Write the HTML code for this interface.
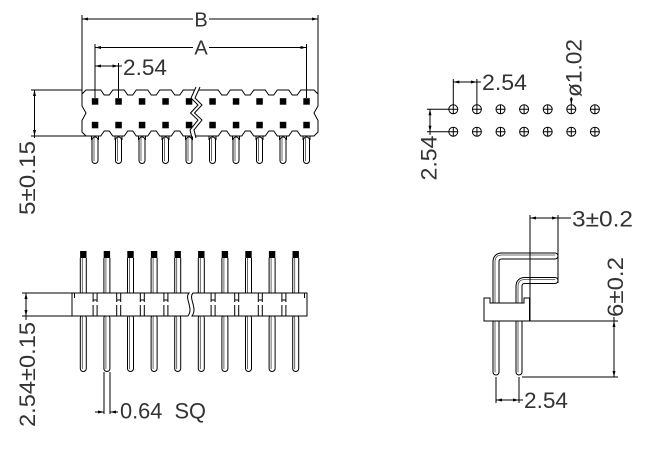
<!DOCTYPE html>
<html><head><meta charset="utf-8"><style>
html,body{margin:0;padding:0;background:#fff;}
svg{display:block;}
text{font-family:"Liberation Sans","DejaVu Sans",sans-serif;fill:#333;}
</style></head><body>
<svg width="652" height="471" viewBox="0 0 652 471" xmlns="http://www.w3.org/2000/svg">
<rect x="0" y="0" width="652" height="471" fill="#fff"/>

<!-- ===================== TOP-LEFT : TOP VIEW ===================== -->
<g fill="none" stroke="#000" stroke-width="1">
  <line x1="82" y1="19" x2="193" y2="19"/><line x1="209" y1="19" x2="318" y2="19"/>
  <line x1="82" y1="15" x2="82" y2="94"/><line x1="318" y1="15" x2="318" y2="106"/>
  <line x1="95" y1="47.5" x2="193" y2="47.5"/><line x1="209" y1="47.5" x2="306.5" y2="47.5"/>
  <line x1="95" y1="44" x2="95" y2="98"/><line x1="306.5" y1="44" x2="306.5" y2="98"/>
  <line x1="95" y1="66" x2="122" y2="66"/>
  <line x1="118.5" y1="63" x2="118.5" y2="98"/>
  <line x1="34.5" y1="90" x2="34.5" y2="138"/>
  <line x1="31" y1="90" x2="82" y2="90"/><line x1="31" y1="136" x2="88" y2="136"/>
</g>
<g fill="#000">
  <polygon points="82,19 88,17.5 88,20.5"/><polygon points="318,19 312,17.5 312,20.5"/>
  <polygon points="95,47.5 101,46 101,49"/><polygon points="306.5,47.5 300.5,46 300.5,49"/>
  <polygon points="95,66 101,64.5 101,67.5"/><polygon points="118.5,66 112.5,64.5 112.5,67.5"/>
  <polygon points="34.5,90 33,96 36,96"/><polygon points="34.5,136 33,130 36,130"/>
</g>

<path fill="#fff" stroke="#000" stroke-width="1" d="M82,94 L86,90 L100.75,90 L104.25,95 L109.25,95 L112.75,90 L124.25,90 L127.75,95 L132.75,95 L136.25,90 L147.75,90 L151.25,95 L156.25,95 L159.75,90 L171.25,90 L174.75,95 L179.75,95 L183.25,90 L218.25,90 L221.75,95 L226.75,95 L230.25,90 L241.75,90 L245.25,95 L250.25,95 L253.75,90 L265.25,90 L268.75,95 L273.75,95 L277.25,90 L288.75,90 L292.25,95 L297.25,95 L300.75,90 L314,90 L318,94 L318,106 L314,113 L318,120.5 L318,132 L314,136 L300.75,136 L297.25,131 L292.25,131 L288.75,136 L277.25,136 L273.75,131 L268.75,131 L265.25,136 L253.75,136 L250.25,131 L245.25,131 L241.75,136 L230.25,136 L226.75,131 L221.75,131 L218.25,136 L183.25,136 L179.75,131 L174.75,131 L171.25,136 L159.75,136 L156.25,131 L151.25,131 L147.75,136 L136.25,136 L132.75,131 L127.75,131 L124.25,136 L112.75,136 L109.25,131 L104.25,131 L100.75,136 L86,136 L82,132 L82,120.5 L86,113 L82,106 Z"/>
<g stroke="#000" stroke-width="1">
  <line x1="95" y1="88" x2="95" y2="98"/><line x1="118.5" y1="88" x2="118.5" y2="98"/><line x1="306.5" y1="88" x2="306.5" y2="98"/>
</g>
<g fill="#000">
  <rect x="91.8" y="98.2" width="6.5" height="6.5"/><rect x="115.3" y="98.2" width="6.5" height="6.5"/>
  <rect x="138.8" y="98.2" width="6.5" height="6.5"/><rect x="162.3" y="98.2" width="6.5" height="6.5"/>
  <rect x="185.8" y="98.2" width="6.5" height="6.5"/><rect x="209.3" y="98.2" width="6.5" height="6.5"/>
  <rect x="232.8" y="98.2" width="6.5" height="6.5"/><rect x="256.3" y="98.2" width="6.5" height="6.5"/>
  <rect x="279.8" y="98.2" width="6.5" height="6.5"/><rect x="303.3" y="98.2" width="6.5" height="6.5"/>
  <rect x="91.8" y="121.8" width="6.5" height="6.5"/><rect x="115.3" y="121.8" width="6.5" height="6.5"/>
  <rect x="138.8" y="121.8" width="6.5" height="6.5"/><rect x="162.3" y="121.8" width="6.5" height="6.5"/>
  <rect x="185.8" y="121.8" width="6.5" height="6.5"/><rect x="209.3" y="121.8" width="6.5" height="6.5"/>
  <rect x="232.8" y="121.8" width="6.5" height="6.5"/><rect x="256.3" y="121.8" width="6.5" height="6.5"/>
  <rect x="279.8" y="121.8" width="6.5" height="6.5"/><rect x="303.3" y="121.8" width="6.5" height="6.5"/>
</g>
<polygon fill="#fff" stroke="none" points="196,87 191,98 198,105 190.5,113 198,120 190,130 192,138 196,138 194,130 202,120 194.5,113 202,105 195,98 200,87"/>
<g fill="none" stroke="#000" stroke-width="1">
  <polyline points="196,87 191,98 198,105 190.5,113 198,120 190,130 192,138"/>
  <polyline points="200,87 195,98 202,105 194.5,113 202,120 194,130 196,138"/>
</g>
<g fill="none" stroke-linecap="round">
  <g stroke="#000" stroke-width="7">
    <path d="M95,140V160.5M118.5,140V160.5M142,140V160.5M165.5,140V160.5M189,140V160.5M212.5,140V160.5M236,140V160.5M259.5,140V160.5M283,140V160.5M306.5,140V160.5"/>
  </g>
  <g stroke="#fff" stroke-width="5">
    <path d="M95,140V160.5M118.5,140V160.5M142,140V160.5M165.5,140V160.5M189,140V160.5M212.5,140V160.5M236,140V160.5M259.5,140V160.5M283,140V160.5M306.5,140V160.5"/>
  </g>
  <g stroke="#444" stroke-width="0.8" stroke-linecap="butt">
    <path d="M94,137V161M117.5,137V161M141,137V161M164.5,137V161M188,137V161M211.5,137V161M235,137V161M258.5,137V161M282,137V161M305.5,137V161"/>
  </g>
  <g stroke="#000" stroke-width="1" stroke-linecap="butt">
    <path d="M91.5,136.5V140M98.5,136.5V140M115,136.5V140M122,136.5V140M138.5,136.5V140M145.5,136.5V140M162,136.5V140M169,136.5V140M185.5,136.5V140M192.5,136.5V140M209,136.5V140M216,136.5V140M232.5,136.5V140M239.5,136.5V140M256,136.5V140M263,136.5V140M279.5,136.5V140M286.5,136.5V140M303,136.5V140M310,136.5V140"/>
  </g>
</g>

<text x="201" y="26.5" font-size="20" text-anchor="middle">B</text>
<text x="201" y="54.5" font-size="20" text-anchor="middle">A</text>
<text x="123" y="75" font-size="22" textLength="44" lengthAdjust="spacingAndGlyphs">2.54</text>
<text transform="translate(35,215) rotate(-90)" font-size="22" textLength="74" lengthAdjust="spacingAndGlyphs">5±0.15</text>

<!-- ===================== BOTTOM-LEFT : SIDE VIEW ===================== -->
<g fill="#000">
  <rect x="80.1" y="251" width="6.4" height="7"/><rect x="103.7" y="251" width="6.4" height="7"/>
  <rect x="127.3" y="251" width="6.4" height="7"/><rect x="150.9" y="251" width="6.4" height="7"/>
  <rect x="174.5" y="251" width="6.4" height="7"/><rect x="198.1" y="251" width="6.4" height="7"/>
  <rect x="221.7" y="251" width="6.4" height="7"/><rect x="245.3" y="251" width="6.4" height="7"/>
  <rect x="268.9" y="251" width="6.4" height="7"/><rect x="292.5" y="251" width="6.4" height="7"/>
</g>
<g fill="none">
  <path stroke="#000" stroke-width="7" d="M83.3,258V293M106.9,258V293M130.5,258V293M154.1,258V293M177.7,258V293M201.3,258V293M224.9,258V293M248.5,258V293M272.1,258V293M295.7,258V293"/>
  <path stroke="#fff" stroke-width="5" d="M83.3,258V293M106.9,258V293M130.5,258V293M154.1,258V293M177.7,258V293M201.3,258V293M224.9,258V293M248.5,258V293M272.1,258V293M295.7,258V293"/>
  <path stroke="#000" stroke-width="7" stroke-linecap="round" d="M83.3,318V368.5M106.9,318V368.5M130.5,318V368.5M154.1,318V368.5M177.7,318V368.5M201.3,318V368.5M224.9,318V368.5M248.5,318V368.5M272.1,318V368.5M295.7,318V368.5"/>
  <path stroke="#fff" stroke-width="5" stroke-linecap="round" d="M83.3,318V368.5M106.9,318V368.5M130.5,318V368.5M154.1,318V368.5M177.7,318V368.5M201.3,318V368.5M224.9,318V368.5M248.5,318V368.5M272.1,318V368.5M295.7,318V368.5"/>
  <path stroke="#444" stroke-width="0.8" d="M82.3,258V293M105.9,258V293M129.5,258V293M153.1,258V293M176.7,258V293M200.3,258V293M223.9,258V293M247.5,258V293M271.1,258V293M294.7,258V293M82.3,316V369M105.9,316V369M129.5,316V369M153.1,316V369M176.7,316V369M200.3,316V369M223.9,316V369M247.5,316V369M271.1,316V369M294.7,316V369"/>
</g>
<path fill="#fff" stroke="#000" stroke-width="1" d="M72,293 L189,293 C184,298 194,308 188,316 L72,316 Z"/>
<path fill="#fff" stroke="#000" stroke-width="1" d="M193,293 L307,293 L307,316 L192,316 C198,308 188,298 193,293 Z"/>
<g fill="none" stroke="#000" stroke-width="1">
  <path d="M93.1,293V302M97.1,293V302M93.1,300H97.1M93.1,305V316M97.1,305V316"/>
  <path d="M116.7,293V302M120.7,293V302M116.7,300H120.7M116.7,305V316M120.7,305V316"/>
  <path d="M140.3,293V302M144.3,293V302M140.3,300H144.3M140.3,305V316M144.3,305V316"/>
  <path d="M163.9,293V302M167.9,293V302M163.9,300H167.9M163.9,305V316M167.9,305V316"/>
  <path d="M211.1,293V302M215.1,293V302M211.1,300H215.1M211.1,305V316M215.1,305V316"/>
  <path d="M234.7,293V302M238.7,293V302M234.7,300H238.7M234.7,305V316M238.7,305V316"/>
  <path d="M258.3,293V302M262.3,293V302M258.3,300H262.3M258.3,305V316M262.3,305V316"/>
  <path d="M281.9,293V302M285.9,293V302M281.9,300H285.9M281.9,305V316M285.9,305V316"/>
  <path d="M74.5,293V298M304.5,293V298"/>
  <line x1="22" y1="293" x2="72" y2="293"/><line x1="22" y1="316" x2="72" y2="316"/>
  <line x1="26" y1="293" x2="26" y2="320"/>
  <line x1="104" y1="372" x2="104" y2="414"/><line x1="110" y1="372" x2="110" y2="414"/>
  <line x1="95" y1="412" x2="104" y2="412"/><line x1="110" y1="412" x2="118" y2="412"/>
</g>
<g fill="#000">
  <polygon points="26,293 24.5,299 27.5,299"/><polygon points="26,316 24.5,310 27.5,310"/>
  <polygon points="104,412 98,410.5 98,413.5"/><polygon points="110,412 116,410.5 116,413.5"/>
</g>
<text transform="translate(35,427) rotate(-90)" font-size="22" textLength="105" lengthAdjust="spacingAndGlyphs">2.54±0.15</text>
<text x="120" y="418.5" font-size="22" textLength="86" lengthAdjust="spacingAndGlyphs" xml:space="preserve">0.64  SQ</text>

<!-- ===================== TOP-RIGHT : PCB LAYOUT ===================== -->
<g fill="none" stroke="#000" stroke-width="1">
  <line x1="453.3" y1="79" x2="453.3" y2="109.3"/><line x1="476.9" y1="79" x2="476.9" y2="109.3"/>
  <line x1="453.3" y1="82" x2="481" y2="82"/>
  <line x1="427" y1="109.3" x2="453.3" y2="109.3"/><line x1="427" y1="131.7" x2="453.3" y2="131.7"/>
  <line x1="430" y1="109.3" x2="430" y2="135"/>
  <line x1="571.3" y1="97" x2="571.3" y2="104.5"/>
</g>
<g fill="#000">
  <polygon points="453.3,82 459.3,80.5 459.3,83.5"/><polygon points="476.9,82 470.9,80.5 470.9,83.5"/>
  <polygon points="430,109.3 428.5,115.3 431.5,115.3"/><polygon points="430,131.7 428.5,125.7 431.5,125.7"/>
  <polygon points="571.3,104.5 569.8,98.5 572.8,98.5"/>
</g>
<g fill="#fff" stroke="#000" stroke-width="1">
  <circle cx="453.3" cy="109.3" r="4.5"/><circle cx="476.9" cy="109.3" r="4.5"/><circle cx="500.5" cy="109.3" r="4.5"/>
  <circle cx="524.1" cy="109.3" r="4.5"/><circle cx="547.7" cy="109.3" r="4.5"/><circle cx="571.3" cy="109.3" r="4.5"/>
  <circle cx="594.9" cy="109.3" r="4.5"/>
  <circle cx="453.3" cy="131.7" r="4.5"/><circle cx="476.9" cy="131.7" r="4.5"/><circle cx="500.5" cy="131.7" r="4.5"/>
  <circle cx="524.1" cy="131.7" r="4.5"/><circle cx="547.7" cy="131.7" r="4.5"/><circle cx="571.3" cy="131.7" r="4.5"/>
  <circle cx="594.9" cy="131.7" r="4.5"/>
</g>
<g stroke="#000" stroke-width="1">
  <path d="M448.8,109.3h9M453.3,104.8v9M472.4,109.3h9M476.9,104.8v9M496,109.3h9M500.5,104.8v9M519.6,109.3h9M524.1,104.8v9M543.2,109.3h9M547.7,104.8v9M566.8,109.3h9M571.3,104.8v9M590.4,109.3h9M594.9,104.8v9"/>
  <path d="M448.8,131.7h9M453.3,127.2v9M472.4,131.7h9M476.9,127.2v9M496,131.7h9M500.5,127.2v9M519.6,131.7h9M524.1,127.2v9M543.2,131.7h9M547.7,127.2v9M566.8,131.7h9M571.3,127.2v9M590.4,131.7h9M594.9,127.2v9"/>
</g>
<text x="482" y="90" font-size="22" textLength="45" lengthAdjust="spacingAndGlyphs">2.54</text>
<text transform="translate(436.5,180.5) rotate(-90)" font-size="22" textLength="45" lengthAdjust="spacingAndGlyphs">2.54</text>
<text transform="translate(581.5,97) rotate(-90)" font-size="22" textLength="58" lengthAdjust="spacingAndGlyphs">ø1.02</text>

<!-- ===================== BOTTOM-RIGHT : RIGHT-ANGLE SIDE ===================== -->
<g fill="none" stroke-linecap="round">
  <path stroke="#000" stroke-width="7" d="M496,372 L496,262 Q496,256 502,256 L555,256"/>
  <path stroke="#fff" stroke-width="5" d="M496,372 L496,262 Q496,256 502,256 L555,256"/>
  <path stroke="#444" stroke-width="0.8" d="M495,372 L495,262 Q495,255 502,255 L555,255"/>
  <path stroke="#000" stroke-width="7" d="M519,372 L519,286.5 Q519,280.5 525,280.5 L555,280.5"/>
  <path stroke="#fff" stroke-width="5" d="M519,372 L519,286.5 Q519,280.5 525,280.5 L555,280.5"/>
  <path stroke="#444" stroke-width="0.8" d="M518,372 L518,286.5 Q518,279.5 525,279.5 L555,279.5"/>
</g>
<polygon fill="#fff" stroke="#000" stroke-width="1" points="484,298 490,298 490,303 524,303 524,298 529.5,298 529.5,321 484,321"/>
<g fill="none" stroke="#000" stroke-width="1">
  <line x1="530" y1="215" x2="530" y2="321"/><line x1="558" y1="215" x2="558" y2="283"/>
  <line x1="530" y1="218" x2="571" y2="218"/>
  <line x1="530" y1="321" x2="618" y2="321"/><line x1="522" y1="377" x2="618" y2="377"/>
  <line x1="614" y1="317" x2="614" y2="377"/>
  <line x1="496" y1="377" x2="496" y2="403"/><line x1="519" y1="377" x2="519" y2="403"/>
  <line x1="496" y1="400" x2="523" y2="400"/>
</g>
<g fill="#000">
  <polygon points="530,218 536,216.5 536,219.5"/><polygon points="558,218 552,216.5 552,219.5"/>
  <polygon points="614,321 612.5,327 615.5,327"/><polygon points="614,377 612.5,371 615.5,371"/>
  <polygon points="496,400 502,398.5 502,401.5"/><polygon points="519,400 513,398.5 513,401.5"/>
</g>
<text x="572" y="226.5" font-size="22" textLength="61" lengthAdjust="spacingAndGlyphs">3±0.2</text>
<text transform="translate(623,317) rotate(-90)" font-size="22" textLength="60" lengthAdjust="spacingAndGlyphs">6±0.2</text>
<text x="524" y="408" font-size="22" textLength="44" lengthAdjust="spacingAndGlyphs">2.54</text>
</svg>
</body></html>
